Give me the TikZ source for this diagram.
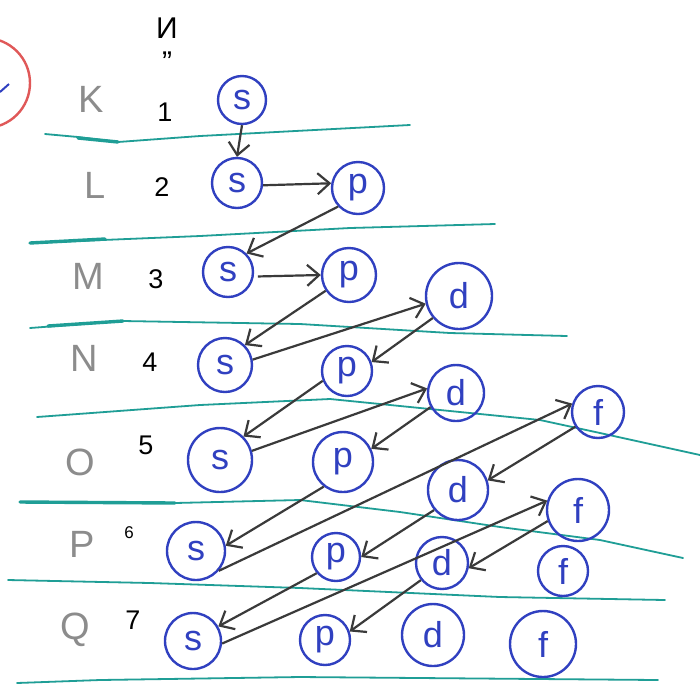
\documentclass[tikz,border=0pt]{standalone}
\usepackage{fontspec}
\setmainfont{Liberation Sans}
\usetikzlibrary{arrows.meta}
\definecolor{orbblue}{HTML}{3040C0}
\definecolor{arrgray}{HTML}{3A3A3A}
\definecolor{shellgray}{HTML}{8C8C8C}
\definecolor{septeal}{HTML}{1F9E96}
\definecolor{markred}{HTML}{E05858}
\begin{document}
\begin{tikzpicture}[x=1pt,y=-1pt,
  orb/.style={circle,draw=orbblue,line width=2.4pt,inner sep=0pt,text=orbblue,font=\fontsize{36}{36}\selectfont},
  flow/.style={draw=arrgray,line width=2.2pt,-{Straight Barb[length=12pt,width=21pt,line width=2.2pt]}},
  shell/.style={text=shellgray,font=\fontsize{38}{38}\selectfont},
  num/.style={text=black,font=\fontsize{27}{27}\selectfont},
  sep/.style={draw=septeal,line width=1.8pt,line cap=round,line join=round},
  septhick/.style={draw=septeal,line width=3.4pt,line cap=round}]
\clip (0,0) rectangle (700,697);
\fill[white] (0,0) rectangle (700,697);

% red mark at left
\draw[markred,line width=2.4pt] (-15,83) circle (45pt);
\draw[orbblue,line width=2pt] (0,92) -- (9,84);

% separators
\draw[sep] (45,134) -- (78,137) -- (118,142) -- (200,136) -- (410,125);
\draw[septhick] (78,138) -- (118,142);
\draw[sep] (30,243) -- (200,236) -- (350,228) -- (495,224);
\draw[septhick] (30,243) -- (105,239);
\draw[sep] (30,328) -- (123,321) -- (300,324) -- (450,333) -- (567,336);
\draw[septhick] (48,326) -- (123,321);
\draw[sep] (37,417) -- (200,405) -- (330,399) -- (440,410) -- (540,420) -- (600,433) -- (700,455);
\draw[sep] (20,502) -- (175,503) -- (300,500) -- (400,512) -- (500,527) -- (600,540) -- (683,558);
\draw[septhick] (20,502) -- (175,503);
\draw[sep] (8,580) -- (150,583) -- (300,588) -- (500,597) -- (665,600);
\draw[sep] (17,683) -- (100,680) -- (300,677) -- (658,680);

% header
\node[num,font=\fontsize{30}{30}\selectfont] (hdr) at (167,28) {И};
\node[num,font=\fontsize{30}{30}\selectfont] (ditto) at (167,62) {''};

% shell letters
\node[shell] (K) at (91,99) {K};
\node[shell] (L) at (95,185) {L};
\node[shell] (M) at (88,276) {M};
\node[shell] (N) at (84,358) {N};
\node[shell] (O) at (80,462) {O};
\node[shell] (P) at (82,544) {P};
\node[shell] (Q) at (75,630) {Q};

% numbers
\node[num] (n1) at (165,112) {1};
\node[num] (n2) at (162,187) {2};
\node[num] (n3) at (156,279) {3};
\node[num] (n4) at (150,362) {4};
\node[num] (n5) at (146,445) {5};
\node[num,font=\fontsize{17}{17}\selectfont] (n6) at (129,533) {6};
\node[num] (n7) at (133,620) {7};

% orbitals
\node[orb,minimum size=48pt] (s1) at (242,100) {s};
\node[orb,minimum size=50pt] (s2) at (237,183) {s};
\node[orb,minimum size=52pt] (p2) at (358,188) {p};
\node[orb,minimum size=50pt] (s3) at (228,272) {s};
\node[orb,minimum size=54pt] (p3) at (349,275) {p};
\node[orb,minimum size=66pt] (d3) at (459,296) {d};
\node[orb,minimum size=54pt] (s4) at (225,365) {s};
\node[orb,minimum size=50pt] (p4) at (347,371) {p};
\node[orb,minimum size=56pt] (d4) at (456,393) {d};
\node[orb,minimum size=52pt] (f4) at (598,412) {f};
\node[orb,minimum size=64pt] (s5) at (220,460) {s};
\node[orb,minimum size=60pt] (p5) at (343,462) {p};
\node[orb,minimum size=60pt] (d5) at (458,490) {d};
\node[orb,minimum size=62pt] (f5) at (578,510) {f};
\node[orb,minimum size=58pt] (s6) at (196,551) {s};
\node[orb,minimum size=48pt] (p6) at (336,557) {p};
\node[orb,minimum size=52pt] (d6) at (442,563) {d};
\node[orb,minimum size=50pt] (f6) at (563,571) {f};
\node[orb,minimum size=56pt] (s7) at (193,641) {s};
\node[orb,minimum size=50pt] (p7) at (325,640) {p};
\node[orb,minimum size=62pt] (d7) at (433,635) {d};
\node[orb,minimum size=66pt] (f7) at (543,644) {f};

% filling order arrows
\draw[flow] (s1.south) -- (s2.north);
\draw[flow] (s2.-5) -- (p2.170);
\draw[flow] (p2.223) -- (s3.45);
\draw[flow,shorten <=4pt] (s3.-10) -- (p3.180);
\draw[flow] (p3.214) -- (s4.45);
\draw[flow] (s4.11) -- (d3.193);
\draw[flow] (d3.220) -- (p4.20);
\draw[flow] (p4.202) -- (s5.45);
\draw[flow] (s5.16) -- (d4.171);
\draw[flow] (d4.209) -- (p5.25);
\draw[flow] (p5.232) -- (s6.10);
\draw[flow] (s6.-41) -- (f4.162);
\draw[flow] (f4.213) -- (d5.18);
\draw[flow] (d5.220) -- (p6.0);
\draw[flow] (p6.220) -- (s7.30);
\draw[flow] (s7.-5) -- (f5.163);
\draw[flow] (f5.200) -- (d6.-11);
\draw[flow] (d6.219) -- (p7.19);
\end{tikzpicture}
\end{document}
